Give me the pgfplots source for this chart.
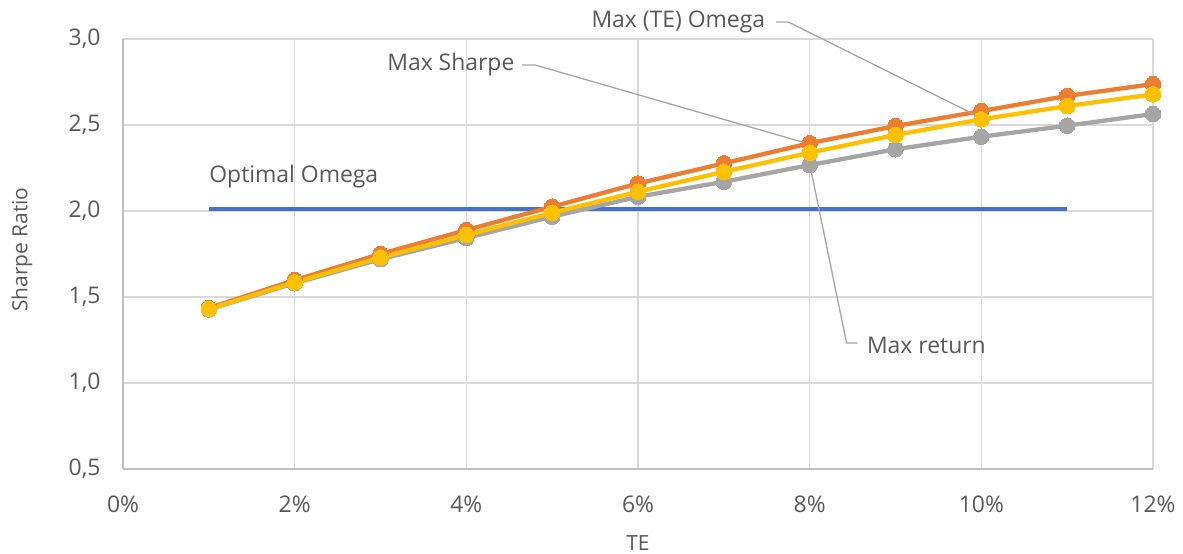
\documentclass[border=0pt]{standalone}
\usepackage{pgfplots}
\pgfplotsset{compat=1.18}
\usepackage{fontspec}
\setmainfont{Open Sans}
\definecolor{txt}{HTML}{595959}
\definecolor{gridc}{HTML}{D9D9D9}
\definecolor{axc}{HTML}{BFBFBF}
\definecolor{cblue}{HTML}{4472C4}
\definecolor{corange}{HTML}{ED7D31}
\definecolor{cgray}{HTML}{A5A5A5}
\definecolor{cyellow}{HTML}{FFC000}
\definecolor{leader}{HTML}{A6A6A6}
\begin{document}
\begin{tikzpicture}
\begin{axis}[
  scale only axis, width=1030bp, height=430bp,
  xmin=0, xmax=12, ymin=0.5, ymax=3.0,
  xtick={0,2,...,12}, xticklabels={0\%,2\%,4\%,6\%,8\%,10\%,12\%},
  ytick={0.5,1,1.5,2,2.5,3}, yticklabels={{0,5},{1,0},{1,5},{2,0},{2,5},{3,0}},
  grid=major, major grid style={color=gridc, line width=1.3bp},
  axis lines*=left, axis line style={color=axc, line width=1.5bp},
  major tick length=0pt,
  tick label style={font=\fontsize{23}{27}\selectfont, text=txt},
  xticklabel style={yshift=-23bp},
  yticklabel style={xshift=-19bp},
  xlabel={TE}, ylabel={Sharpe Ratio},
  label style={font=\fontsize{21}{25}\selectfont, text=txt},
  xlabel style={at={(axis description cs:0.5,0)}, anchor=center, yshift=-74bp},
  ylabel style={at={(axis description cs:-0.098,0.51)}, anchor=center, rotate=0},
  clip=false,
  every axis plot/.append style={line width=4.3bp},
]
\addplot[cblue, mark=none] coordinates {(1,2.012)(2,2.012)(3,2.012)(4,2.012)(5,2.012)(6,2.012)(7,2.012)(8,2.012)(9,2.012)(10,2.012)(11,2.012)};
\addplot[corange, mark=*, mark size=7.8bp, mark options={solid,fill=corange,draw=corange,line width=0pt}] coordinates {(1,1.436)(2,1.598)(3,1.750)(4,1.889)(5,2.025)(6,2.160)(7,2.277)(8,2.394)(9,2.494)(10,2.581)(11,2.669)(12,2.738)};
\addplot[cgray, mark=*, mark size=7.8bp, mark options={solid,fill=cgray,draw=cgray,line width=0pt}] coordinates {(1,1.428)(2,1.580)(3,1.720)(4,1.843)(5,1.967)(6,2.083)(7,2.170)(8,2.267)(9,2.359)(10,2.432)(11,2.496)(12,2.564)};
\addplot[cyellow, mark=*, mark size=7.8bp, mark options={solid,fill=cyellow,draw=cyellow,line width=0pt}] coordinates {(1,1.430)(2,1.585)(3,1.729)(4,1.860)(5,1.990)(6,2.112)(7,2.228)(8,2.339)(9,2.442)(10,2.533)(11,2.610)(12,2.678)};
\begin{scope}[every node/.style={font=\fontsize{23}{27}\selectfont, text=txt, inner sep=0pt}]
\node at (axis cs:6.47,3.099) {Max (TE) Omega};
\node at (axis cs:3.82,2.849) {Max Sharpe};
\node at (axis cs:9.36,1.221) {Max return};
\node at (axis cs:1.99,2.203) {Optimal Omega};
\end{scope}
\draw[leader, line width=1.3bp] (axis cs:7.61,3.099) -- (axis cs:7.75,3.099) -- (axis cs:10,2.541);
\draw[leader, line width=1.3bp] (axis cs:4.65,2.849) -- (axis cs:4.80,2.849) -- (axis cs:7.99,2.39);
\draw[leader, line width=1.3bp] (axis cs:8.56,1.233) -- (axis cs:8.43,1.233) -- (axis cs:8.00,2.273);
\path ([shift={(-123bp,-84bp)}]rel axis cs:0,0) rectangle ([shift={(30bp,39bp)}]rel axis cs:1,1);
\end{axis}
\end{tikzpicture}
\end{document}
